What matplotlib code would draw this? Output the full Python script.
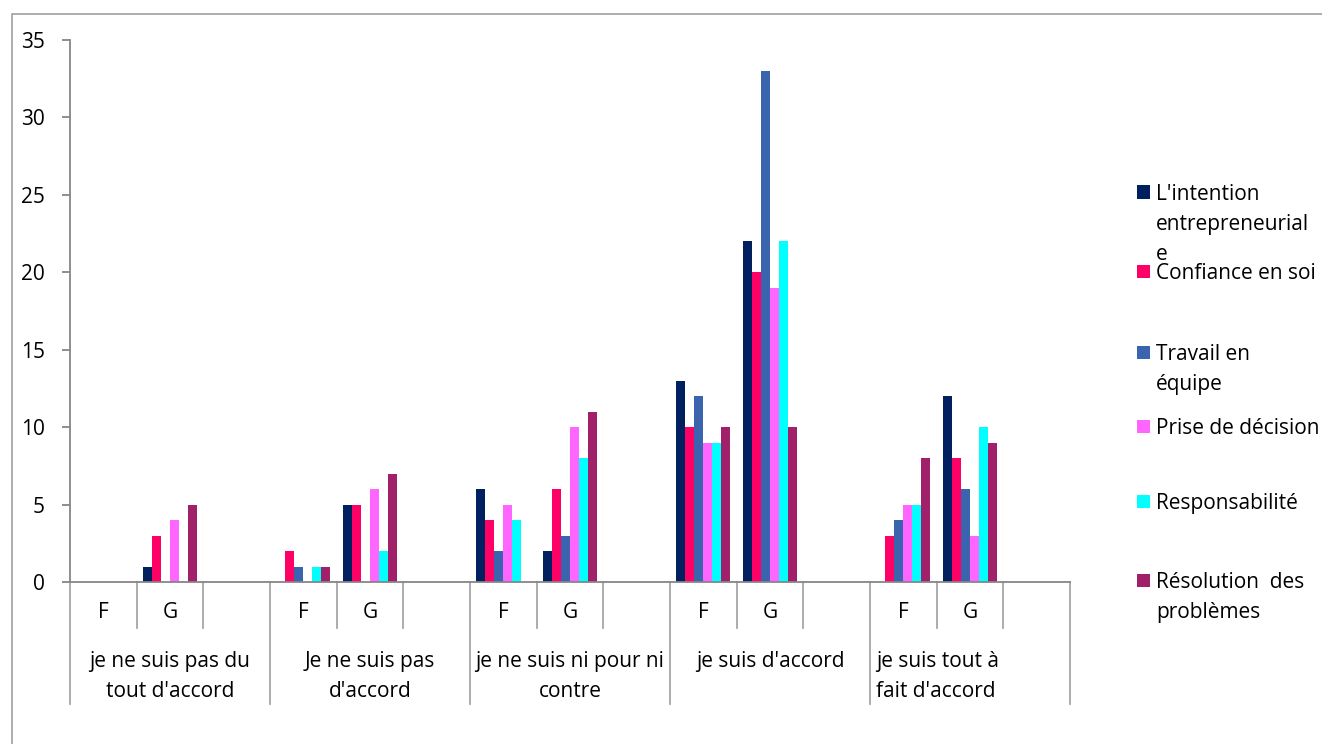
import matplotlib
matplotlib.use("Agg")
import matplotlib.pyplot as plt
import matplotlib.transforms as mtransforms
from matplotlib.patches import Rectangle
import numpy as np

plt.rcParams['font.family'] = ['Open Sans', 'DejaVu Sans']

series_names = ["L'intention\nentrepreneurial\ne", "Confiance en soi", "Travail en\néquipe",
                "Prise de décision", "Responsabilité", "Résolution  des\nproblèmes"]
colors = ['#002060', '#FF0066', '#3A64AD', '#FF66FF', '#00FFFF', '#A0206A']

sub_labels = ["F", "G", ""] * 5
group_labels = ["je ne suis pas du\ntout d'accord", "Je ne suis pas\nd'accord",
                "je ne suis ni pour ni\ncontre", "je suis d'accord",
                "je suis tout à\nfait d'accord"]

intention      = [0, 1, 0, 0, 5, 0, 6, 2, 0, 13, 22, 0, 0, 12, 0]
confiance      = [0, 3, 0, 2, 5, 0, 4, 6, 0, 10, 20, 0, 3, 8, 0]
travail        = [0, 0, 0, 1, 0, 0, 2, 3, 0, 12, 33, 0, 4, 6, 0]
prise_decision = [0, 4, 0, 0, 6, 0, 5, 10, 0, 9, 19, 0, 5, 3, 0]
responsabilite = [0, 0, 0, 1, 2, 0, 4, 8, 0, 9, 22, 0, 5, 10, 0]
resolution     = [0, 5, 0, 1, 7, 0, 0, 11, 0, 10, 10, 0, 8, 9, 0]
all_series = [intention, confiance, travail, prise_decision, responsabilite, resolution]

W, H = 1322, 744
fig = plt.figure(figsize=(W / 100, H / 100), dpi=100)

def fx(px):
    return px / W

def fy(py):
    return 1 - py / H

FS = 15
ax_left, ax_right, ax_top, ax_bottom = 70, 1070, 40, 582
ax = fig.add_axes([fx(ax_left), fy(ax_bottom), fx(ax_right - ax_left), fy(ax_top) - fy(ax_bottom)])

n = len(sub_labels)
x = np.arange(n)
bw = 9 / (1000 / 15)
for j, (vals, c) in enumerate(zip(all_series, colors)):
    ax.bar(x + (j - 2.5) * bw, vals, width=bw, color=c, edgecolor='none')

ax.set_xlim(-0.5, n - 0.5)
ax.set_ylim(0, 35)
ax.set_yticks(range(0, 36, 5))
ax.set_xticks([])
for s in ['top', 'right']:
    ax.spines[s].set_visible(False)
for s in ['left', 'bottom']:
    ax.spines[s].set_color('#868686')
    ax.spines[s].set_linewidth(1.3)
ax.tick_params(axis='y', direction='out', length=6, color='#868686', width=1.3,
               labelsize=FS, pad=12)

# multi-level category axis
trans = mtransforms.blended_transform_factory(ax.transData, fig.transFigure)
for b in range(n + 1):
    xb = b - 0.5
    yend = 704 if b % 3 == 0 else 628
    ax.plot([xb, xb], [fy(ax_bottom), fy(yend)], transform=trans, color='#A6A6A6',
            lw=1.3, clip_on=False)
for i, lab in enumerate(sub_labels):
    if lab:
        ax.text(i, fy(613), lab, transform=trans, ha='center', va='center', fontsize=FS)
for g, lab in enumerate(group_labels):
    if g == len(group_labels) - 1:
        ax.text(3 * g - 0.41, fy(651), lab, transform=trans, ha='left', va='top',
                fontsize=FS, linespacing=1.55)
    else:
        ax.text(3 * g + 1, fy(651), lab, transform=trans, ha='center', va='top',
                fontsize=FS, linespacing=1.55)

# legend
leg_y = [192, 271, 352, 426, 501, 580]
for name, c, yy in zip(series_names, colors, leg_y):
    fig.patches.append(Rectangle((fx(1137), fy(yy + 6.5)), fx(13), fy(yy - 6.5) - fy(yy + 6.5),
                                 transform=fig.transFigure, facecolor=c, edgecolor='none'))
    fig.text(fx(1156), fy(yy - 8), name, ha='left', va='top', fontsize=FS,
             linespacing=1.55, transform=fig.transFigure)

# outer chart border
fig.patches.append(Rectangle((fx(12), fy(760)), fx(1400), fy(14) - fy(760),
                             transform=fig.transFigure, facecolor='none',
                             edgecolor='#A0A0A0', lw=1.2))

fig.savefig('out.png', dpi=100)
